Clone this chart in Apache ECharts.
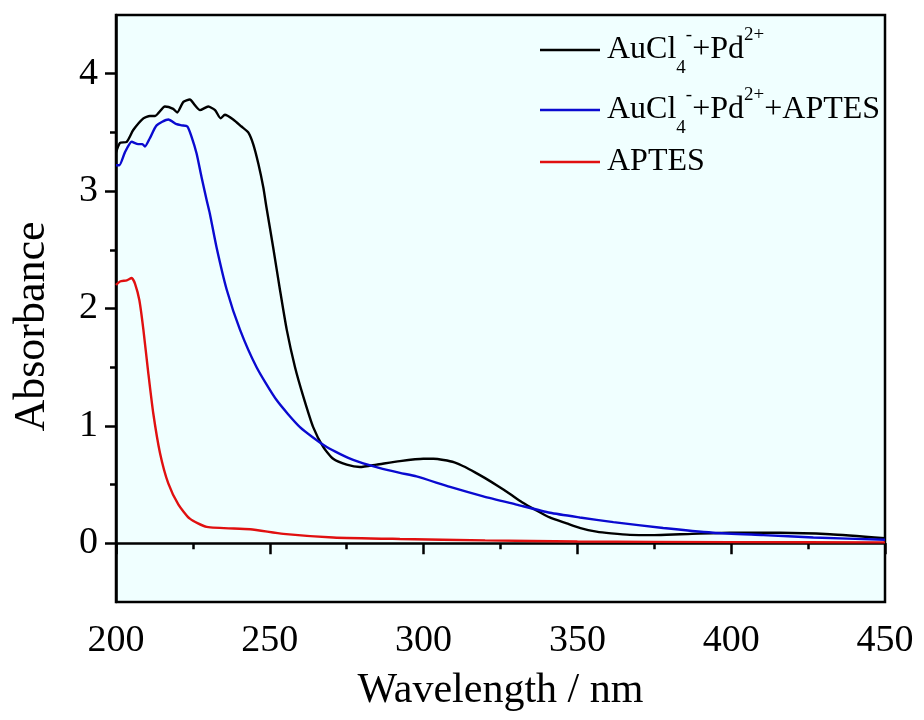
<!DOCTYPE html>
<html>
<head>
<meta charset="utf-8">
<script src="https://cdn.jsdelivr.net/npm/echarts@6/dist/echarts.min.js"></script>
<style>html,body{margin:0;padding:0;background:#fff}#c{width:924px;height:720px}</style>
</head>
<body>
<div id="c"></div>
<script>
// Series names
const seriesNames = ['AuCl4-+Pd2+', 'AuCl4-+Pd2++APTES', 'APTES'];

// AuCl4- + Pd2+ (black)
const wlBlack = [200, 201.3, 203.5, 205.6, 208.9, 211, 212.7, 215.9, 218.6, 219.9, 221.9, 224, 225.7, 227.3, 230, 232.2, 234, 235.4, 238.1, 240.8, 243, 244.6, 246.3, 247.9, 248.8, 251.1, 253.3, 255.5, 258.2, 260.9, 264.1, 267.4, 270.6, 275, 279.3, 284.7, 292.3, 299.9, 303.2, 306.5, 310, 313.5, 317, 320, 324, 328.1, 332, 336.7, 341, 346.5, 351, 356.2, 361, 367.1, 375, 383.4, 399.6, 415.9, 432.1, 450];
const absBlack = [3.33, 3.41, 3.42, 3.52, 3.62, 3.64, 3.64, 3.72, 3.70, 3.67, 3.76, 3.78, 3.73, 3.69, 3.72, 3.69, 3.62, 3.65, 3.61, 3.55, 3.50, 3.40, 3.23, 3.03, 2.88, 2.52, 2.16, 1.82, 1.50, 1.25, 0.99, 0.82, 0.72, 0.67, 0.65, 0.67, 0.70, 0.72, 0.72, 0.71, 0.69, 0.65, 0.60, 0.555, 0.49, 0.42, 0.35, 0.28, 0.22, 0.17, 0.13, 0.10, 0.085, 0.072, 0.07, 0.077, 0.09, 0.09, 0.077, 0.043];

// AuCl4- + Pd2+ + APTES (blue)
const wlBlue = [200, 201.1, 202.9, 205.1, 207.2, 208.6, 209.4, 211, 213.2, 217, 219.7, 221.3, 223.2, 224.6, 226.2, 227.8, 229.5, 230.5, 232.7, 236, 240.3, 245.7, 252.2, 259.8, 268.5, 277.1, 285.8, 292.3, 297.7, 308.6, 319.4, 330.2, 341.1, 350.8, 361.7, 377.9, 394.2, 410.4, 426.7, 450];
const absBlue = [3.22, 3.22, 3.33, 3.42, 3.40, 3.40, 3.38, 3.45, 3.56, 3.61, 3.57, 3.56, 3.55, 3.46, 3.32, 3.12, 2.92, 2.81, 2.52, 2.16, 1.82, 1.50, 1.22, 0.99, 0.82, 0.71, 0.64, 0.60, 0.57, 0.48, 0.40, 0.33, 0.26, 0.22, 0.18, 0.13, 0.09, 0.07, 0.05, 0.03];

// APTES (red)
const wlRed = [200, 201.3, 203.5, 205.1, 206.2, 207.6, 208.9, 210.5, 212.1, 214.3, 217, 220.3, 224, 229.5, 243.6, 254.4, 270.6, 292.3, 320, 350, 400, 450];
const absRed = [2.20, 2.23, 2.24, 2.26, 2.21, 2.07, 1.82, 1.45, 1.11, 0.77, 0.51, 0.33, 0.21, 0.14, 0.12, 0.08, 0.05, 0.037, 0.025, 0.015, 0.01, 0.008];

// Axis ticks
const xTicks = [200, 250, 300, 350, 400, 450];
const yMajorTicks = [0, 1, 2, 3, 4];
const yMinorTicks = [0.5, 1.5, 2.5, 3.5];

const FONT = '"Liberation Serif", "Times New Roman", serif';
const pair = (xs, ys) => xs.map((x, i) => [x, ys[i]]);

const richStyles = {
  n: { fontSize: 32, fontFamily: FONT, color: '#000', lineHeight: 40 },
  sub: { fontSize: 19, fontFamily: FONT, color: '#000', verticalAlign: 'bottom', lineHeight: 19, padding: [0, 0, -8, 0] },
  sup: { fontSize: 19, fontFamily: FONT, color: '#000', verticalAlign: 'top', lineHeight: 19, padding: [-4, 0, 0, 0] }
};
const legendLabels = {
  'AuCl4-+Pd2+': '{n|AuCl}{sub|4}{sup|-}{n|+Pd}{sup|2+}',
  'AuCl4-+Pd2++APTES': '{n|AuCl}{sub|4}{sup|-}{n|+Pd}{sup|2+}{n|+APTES}',
  'APTES': '{n|APTES}'
};

const chart = echarts.init(document.getElementById('c'), null, { renderer: 'canvas' });
const lineCommon = { type: 'line', symbol: 'none', showSymbol: false, smooth: 0.2, z: 3 };

chart.setOption({
  animation: false,
  backgroundColor: '#ffffff',
  grid: {
    left: 116, right: 39, top: 15, bottom: 118,
    show: true, backgroundColor: '#F0FFFF', borderColor: '#000', borderWidth: 2.5
  },
  legend: {
    orient: 'vertical', left: 535, top: 21,
    icon: 'rect', itemWidth: 60, itemHeight: 2.5, itemGap: 8,
    data: seriesNames,
    formatter: name => legendLabels[name],
    textStyle: { fontFamily: FONT, fontSize: 32, color: '#000', rich: richStyles, padding: [0, 0, 0, 2] }
  },
  xAxis: {
    type: 'value', min: 200, max: 450, interval: 50,
    name: 'Wavelength / nm', nameLocation: 'middle', nameGap: 68,
    nameTextStyle: { fontFamily: FONT, fontSize: 42, color: '#000' },
    axisLine: { show: true, lineStyle: { color: '#000', width: 2.5 } },
    axisTick: { show: true, length: 11, lineStyle: { color: '#000', width: 2.5 } },
    minorTick: { show: true, splitNumber: 2, length: 6, lineStyle: { color: '#000', width: 2.5 } },
    splitLine: { show: false },
    axisLabel: { margin: 20, fontFamily: FONT, fontSize: 38, color: '#000', customValues: xTicks }
  },
  yAxis: [{
    type: 'value', min: -0.5, max: 4.5, interval: 0.5,
    name: 'Absorbance', nameLocation: 'middle', nameGap: 62,
    nameTextStyle: { fontFamily: FONT, fontSize: 44, color: '#000', padding: [0, 36, 0, 0] },
    axisLine: { show: true, lineStyle: { color: '#000', width: 2.5 } },
    axisTick: { show: true, length: 11, customValues: yMajorTicks, lineStyle: { color: '#000', width: 2.5 } },
    splitLine: { show: false },
    axisLabel: { margin: 18, fontFamily: FONT, fontSize: 38, color: '#000', customValues: yMajorTicks }
  }, {
    type: 'value', min: -0.5, max: 4.5, interval: 0.5, position: 'left', offset: 0,
    axisLine: { show: false },
    axisTick: { show: true, length: 6, customValues: yMinorTicks, lineStyle: { color: '#000', width: 2.5 } },
    splitLine: { show: false },
    axisLabel: { show: false }
  }],
  series: [
    Object.assign({ name: seriesNames[0], data: pair(wlBlack, absBlack), lineStyle: { color: '#000000', width: 2.4 }, itemStyle: { color: '#000000' } }, lineCommon),
    Object.assign({ name: seriesNames[1], data: pair(wlBlue, absBlue), lineStyle: { color: '#0a0ad0', width: 2.4 }, itemStyle: { color: '#0a0ad0' } }, lineCommon),
    Object.assign({ name: seriesNames[2], data: pair(wlRed, absRed), lineStyle: { color: '#e01010', width: 2.4 }, itemStyle: { color: '#e01010' } }, lineCommon)
  ]
});
</script>
</body>
</html>
